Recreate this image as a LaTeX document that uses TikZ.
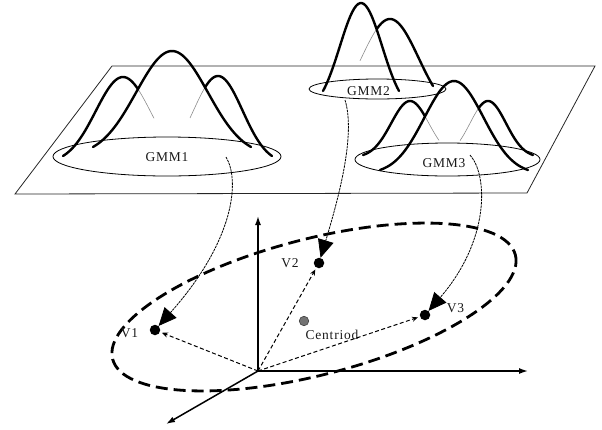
\documentclass[tikz,border=0pt]{standalone}
\usepackage{fontspec}
\setmainfont{Liberation Serif}
\newfontfamily\lblfont[LetterSpace=6]{Liberation Serif}
\usetikzlibrary{arrows.meta}

% one stretch of a bell curve: style, peak x, peak y, base y, half width, sharpness, from x, to x
\newcommand{\bellpart}[8]{%
  \draw[#1] plot[domain=#7:#8, samples=40, smooth, variable=\t]
    (\t, {#4-(#4-#3)*bell((\t-#2)/#5*#6, #6)});}

\begin{document}
\begin{tikzpicture}[x=1pt, y=-1pt,
  declare function={bell(\u,\k)=(exp(-\u*\u/2)-exp(-\k*\k/2))/(1-exp(-\k*\k/2));},
  plane/.style={line width=0.8pt, black!85},
  ring/.style={line width=0.8pt, black},
  gthick/.style={line width=2.4pt, line cap=round, black},
  ghidden/.style={line width=0.6pt, black!45},
  lbl/.style={font=\lblfont\fontsize{13.5}{15}\selectfont, text=black!90, inner sep=0pt},
  link/.style={line width=0.8pt, dash pattern=on 2.5pt off 0.8pt,
               -{Triangle[length=18pt,width=16pt]}},
  vec/.style={line width=1pt, dash pattern=on 4pt off 2.5pt,
              -{Stealth[length=6pt,width=5pt]}, shorten >=2pt},
  axis/.style={line width=1.5pt, -{Latex[length=9pt,width=6pt]}},
  dring/.style={line width=2.8pt, dash pattern=on 12pt off 6pt},
  dot/.style={circle, fill=black, inner sep=0pt, minimum size=10.5pt},
  cdot/.style={circle, fill=black!55, draw=black!75, line width=0.6pt, inner sep=0pt, minimum size=9.5pt}
]
\useasboundingbox (0,0) rectangle (602,429);

% the feature plane
\draw[plane] (112,66) -- (595,66) -- (527,193) -- (15,194) -- cycle;

% mixture footprints
\draw[ring] (167,156.5) ellipse [x radius=114, y radius=19.5];
\draw[ring] (377.5,89) ellipse [x radius=68.5, y radius=10];
\draw[ring] (447.5,159.5) ellipse [x radius=92.5, y radius=16.5];

% GMM1 components
\bellpart{ghidden}{123}{77}{156}{60}{2.2}{136}{154}
\bellpart{ghidden}{218}{76}{156}{54}{2.2}{190}{207}
\bellpart{gthick}{172}{51}{147}{79}{2.2}{93}{251}
\bellpart{gthick}{123}{77}{156}{60}{2.2}{63}{138}
\bellpart{gthick}{218}{76}{156}{54}{2.2}{205}{272}

% GMM2 components
\bellpart{ghidden}{390}{19}{86}{43}{1.5}{360}{378}
\bellpart{gthick}{361}{3}{91}{38}{1.8}{323}{399}
\bellpart{gthick}{390}{19}{86}{43}{1.5}{377}{433}

% GMM3 components
\bellpart{ghidden}{410}{101}{155}{47}{2.5}{423}{439}
\bellpart{ghidden}{488}{101}{155}{45}{2.5}{460}{481}
\bellpart{gthick}{454}{81}{170}{74}{2.5}{380}{528}
\bellpart{gthick}{410}{101}{155}{47}{2.5}{363}{425}
\bellpart{gthick}{488}{101}{155}{45}{2.5}{479}{533}

\node[lbl] (g1) at (167,157) {GMM1};
\node[lbl] (g2) at (368.5,91) {GMM2};
\node[lbl] (g3) at (444,163) {GMM3};

% embedding space
\draw[dring] [rotate around={14.5:(314,307)}] (314,307) ellipse [x radius=208, y radius=68];

\coordinate (O) at (258,371);
\coordinate (ay) at (258,216);
\coordinate (ax) at (528,371);
\coordinate (az) at (166,424);
\draw[axis] (O) -- (ay);
\draw[axis] (O) -- (ax);
\draw[axis] (O) -- (az);

\node[dot] (v1) at (155,330) {};
\node[dot] (v2) at (319,263) {};
\node[dot] (v3) at (425,315) {};
\node[cdot] (cen) at (304,321) {};

\node[lbl] (l1) at (129.5,333) {V1};
\node[lbl] (l2) at (290,263) {V2};
\node[lbl] (l3) at (455.5,308) {V3};
\node[lbl] (lc) at (332,334.5) {Centriod};

\draw[vec] (O) -- (v1);
\draw[vec] (O) -- (v2);
\draw[vec] (O) -- (v3);

% mappings from each mixture to its point
\coordinate (s1) at (226,157);
\coordinate (s2) at (345,100);
\coordinate (s3) at (470,155);
\draw[link] (s1) .. controls (240,180) and (235,240) .. (v1);
\draw[link] (s2) .. controls (356,135) and (338,200) .. (v2);
\draw[link] (s3) .. controls (488,175) and (490,240) .. (v3);
\end{tikzpicture}
\end{document}
